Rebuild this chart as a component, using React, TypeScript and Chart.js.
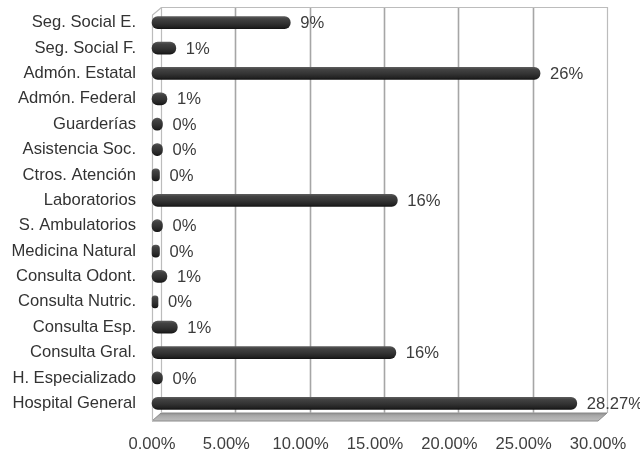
import { useEffect, useRef } from 'react';
import { Chart, registerables } from 'chart.js';

Chart.register(...registerables);

// Share of spending by provider type, in percent
const categories = [
  'Seg. Social E.',
  'Seg. Social F.',
  'Admón. Estatal',
  'Admón. Federal',
  'Guarderías',
  'Asistencia Soc.',
  'Ctros. Atención',
  'Laboratorios',
  'S. Ambulatorios',
  'Medicina Natural',
  'Consulta Odont.',
  'Consulta Nutric.',
  'Consulta Esp.',
  'Consulta Gral.',
  'H. Especializado',
  'Hospital General',
];
const shares = [9.0, 1.3, 25.8, 0.7, 0.4, 0.4, 0.2, 16.2, 0.4, 0.2, 0.7, 0.1, 1.4, 16.1, 0.4, 28.27];
// decimals shown in each bar's value label
const shareDecimals = [0, 0, 0, 0, 0, 0, 0, 0, 0, 0, 0, 0, 0, 0, 0, 2];
const axisMin = 0;
const axisMax = 30;
const axisStep = 5;

// pseudo-3D depth of the plot box
const DEPTH_X = 9;
const DEPTH_Y = 8;
const BAR_SHIFT = DEPTH_X / 2;
const FONT = '"Liberation Sans", Arial, sans-serif';
const FONT_SIZE = 16.6;

const wall3d = {
  id: 'wall3d',
  beforeDatasetsDraw(chart: any) {
    const { ctx, chartArea, scales } = chart;
    const xs = scales.x;
    const fl = xs.getPixelForValue(axisMin);
    const fr = xs.getPixelForValue(axisMax);
    const ft = chartArea.top + 5;
    const fb = chartArea.bottom + 5;
    const bl = fl + DEPTH_X;
    const br = fr + DEPTH_X;
    const bt = ft - DEPTH_Y;
    const bb = fb - DEPTH_Y;

    ctx.save();
    // floor
    const fg = ctx.createLinearGradient(0, bb, 0, fb);
    fg.addColorStop(0, '#8e8e8e');
    fg.addColorStop(0.35, '#a9a9a9');
    fg.addColorStop(1, '#bdbdbd');
    ctx.fillStyle = fg;
    ctx.beginPath();
    ctx.moveTo(fl, fb);
    ctx.lineTo(fr, fb);
    ctx.lineTo(br, bb);
    ctx.lineTo(bl, bb);
    ctx.closePath();
    ctx.fill();
    ctx.strokeStyle = '#8a8a8a';
    ctx.lineWidth = 1;
    ctx.stroke();

    // back wall grid lines
    ctx.strokeStyle = '#a6a6a6';
    ctx.lineWidth = 1.6;
    for (let v = axisMin + axisStep; v < axisMax; v += axisStep) {
      const x = Math.round(xs.getPixelForValue(v) + DEPTH_X) + 0.5;
      ctx.beginPath();
      ctx.moveTo(x, bt);
      ctx.lineTo(x, bb);
      ctx.stroke();
    }

    // back wall frame and left wall
    ctx.strokeStyle = '#bcbcbc';
    ctx.lineWidth = 1.2;
    ctx.beginPath();
    ctx.moveTo(Math.round(bl) + 0.5, bb);
    ctx.lineTo(Math.round(bl) + 0.5, bt + 0.5);
    ctx.lineTo(Math.round(br) + 0.5, bt + 0.5);
    ctx.lineTo(Math.round(br) + 0.5, bb);
    ctx.stroke();
    ctx.beginPath();
    ctx.moveTo(Math.round(fl) + 0.5, fb);
    ctx.lineTo(Math.round(fl) + 0.5, ft);
    ctx.lineTo(Math.round(bl) + 0.5, bt + 0.5);
    ctx.stroke();
    ctx.restore();

    // bars sit at mid depth
    ctx.save();
    ctx.translate(BAR_SHIFT, 0);
  },
  afterDatasetsDraw(chart: any) {
    const { ctx } = chart;
    ctx.restore();
    const meta = chart.getDatasetMeta(0);
    ctx.save();
    ctx.font = `${FONT_SIZE}px ${FONT}`;
    ctx.fillStyle = '#3c3c3c';
    ctx.textAlign = 'left';
    ctx.textBaseline = 'middle';
    meta.data.forEach((el: any, i: number) => {
      const text = shares[i].toFixed(shareDecimals[i]) + '%';
      ctx.fillText(text, el.x + BAR_SHIFT + 10, el.y + 1);
    });
    ctx.restore();
  },
};

export default function App() {
  const canvasRef = useRef<HTMLCanvasElement | null>(null);

  useEffect(() => {
    const canvas = canvasRef.current;
    if (!canvas) return;
    const chart = new Chart(canvas, {
      type: 'bar',
      data: {
        labels: categories,
        datasets: [
          {
            data: shares,
            base: -0.3,
            clip: false,
            barThickness: 12,
            borderRadius: 6,
            borderSkipped: false,
            backgroundColor: (c: any) => {
              const ys = c.chart.scales?.y;
              if (c.type !== 'data' || !ys) return '#333333';
              const yc = ys.getPixelForValue(c.dataIndex);
              if (!Number.isFinite(yc)) return '#333333';
              const g = c.chart.ctx.createLinearGradient(0, yc - 6, 0, yc + 6);
              g.addColorStop(0, '#5a5a5a');
              g.addColorStop(0.18, '#424242');
              g.addColorStop(0.55, '#333333');
              g.addColorStop(0.85, '#232323');
              g.addColorStop(1, '#141414');
              return g;
            },
          } as any,
        ],
      },
      options: {
        indexAxis: 'y',
        responsive: false,
        animation: false,
        layout: { padding: { top: 10, right: 42, left: 0, bottom: 0 } },
        plugins: {
          legend: { display: false },
          tooltip: { enabled: false },
        },
        scales: {
          x: {
            min: axisMin,
            max: axisMax,
            grid: { display: false, drawTicks: true, tickLength: 18 },
            border: { display: false },
            ticks: {
              stepSize: axisStep,
              padding: 0,
              color: '#404040',
              font: { family: FONT, size: FONT_SIZE },
              callback: (v: any) => Number(v).toFixed(2) + '%',
            },
            afterFit: (s: any) => {
              s.height = 39;
            },
          },
          y: {
            grid: { display: false, drawTicks: true, tickLength: 16 },
            border: { display: false },
            ticks: {
              padding: 0,
              color: '#333333',
              font: { family: FONT, size: FONT_SIZE },
            },
            afterFit: (s: any) => {
              s.width = 152;
            },
          },
        },
      },
      plugins: [wall3d],
    } as any);
    return () => chart.destroy();
  }, []);

  return (
    <div style={{ position: 'fixed', left: 0, top: 0, width: 640, height: 455, background: '#ffffff' }}>
      <canvas ref={canvasRef} width={640} height={455} />
    </div>
  );
}
